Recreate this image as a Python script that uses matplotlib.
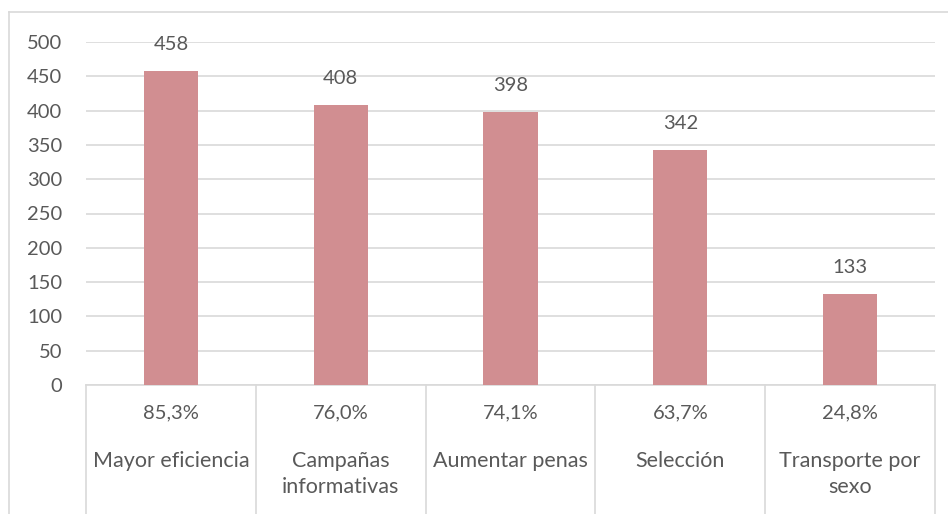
import matplotlib.pyplot as plt
from matplotlib.lines import Line2D

categories = ["Mayor eficiencia", "Campañas\ninformativas", "Aumentar penas",
              "Selección", "Transporte por\nsexo"]
values = [458, 408, 398, 342, 133]
percents = ["85,3%", "76,0%", "74,1%", "63,7%", "24,8%"]
yticks = [0, 50, 100, 150, 200, 250, 300, 350, 400, 450, 500]

plt.rcParams["font.family"] = ["Lato", "DejaVu Sans"]
text_color = "#595959"
grid_color = "#D9D9D9"
bar_color = "#D18E91"

fig = plt.figure(figsize=(9.48, 5.14), dpi=100)
ax = fig.add_axes([86 / 948, 1 - 385 / 514, (935 - 86) / 948, (385 - 42) / 514])

x = list(range(len(categories)))
bars = ax.bar(x, values, width=0.32, color=bar_color, zorder=3)

for xi, v in zip(x, values):
    ax.annotate(str(v), (xi, v), xytext=(0, 19), textcoords="offset points",
                ha="center", va="center", fontsize=14.5, color=text_color)

ax.set_xlim(-0.5, len(categories) - 0.5)
ax.set_ylim(0, 500)
ax.set_yticks(yticks)
ax.set_yticklabels([str(t) for t in yticks], fontsize=14.5, color=text_color)
ax.tick_params(axis="y", length=0, pad=17)
ax.set_xticks([])
ax.grid(axis="y", color=grid_color, linewidth=1.2, zorder=0)
for s in ["top", "right", "left"]:
    ax.spines[s].set_visible(False)
ax.spines["bottom"].set_color(grid_color)
ax.spines["bottom"].set_linewidth(1.2)

# category table below the axis
trans = ax.get_xaxis_transform()
for b in range(len(categories) + 1):
    ax.add_line(Line2D([b - 0.5, b - 0.5], [0, -0.45], transform=trans,
                       color=grid_color, linewidth=1.2, clip_on=False))
for xi, p, c in zip(x, percents, categories):
    ax.text(xi, -0.082, p, transform=trans, ha="center", va="center",
            fontsize=14.5, color=text_color)
    ax.text(xi, -0.193, c, transform=trans, ha="center", va="top",
            fontsize=15.5, color=text_color, linespacing=1.35)

# outer chart frame
fig.add_artist(Line2D([9 / 948, 9 / 948], [0, 1 - 12 / 514], color=grid_color,
                      linewidth=1.2, transform=fig.transFigure))
fig.add_artist(Line2D([9 / 948, 1], [1 - 12 / 514, 1 - 12 / 514], color=grid_color,
                      linewidth=1.2, transform=fig.transFigure))

fig.savefig("out.png", dpi=100, facecolor="white")
